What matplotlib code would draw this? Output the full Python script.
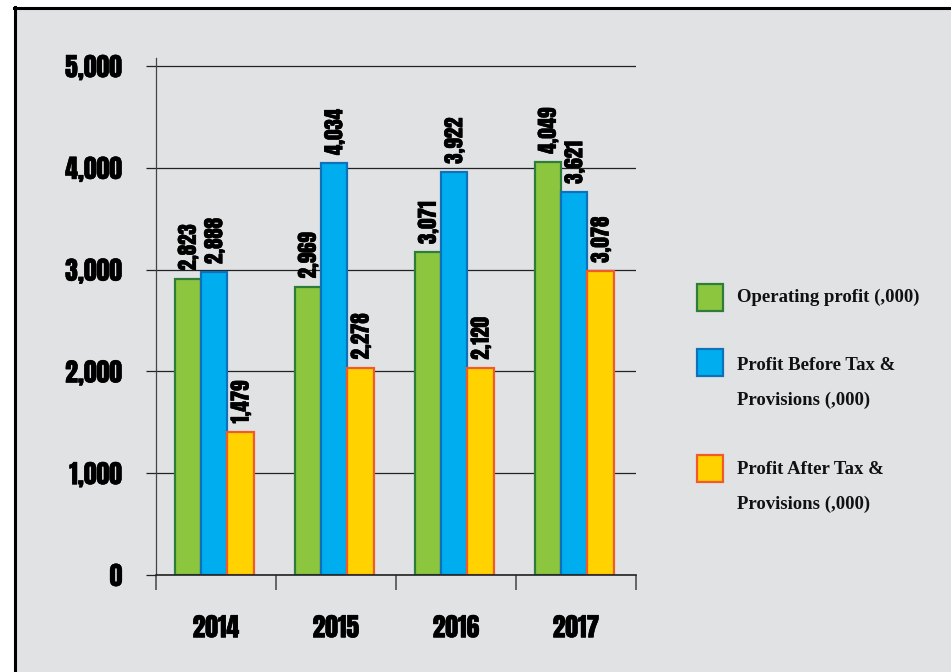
import matplotlib
matplotlib.use("Agg")
import matplotlib.pyplot as plt
import matplotlib.patheffects as pe
import numpy as np
from matplotlib.patches import Rectangle
from matplotlib.lines import Line2D

# ---- data ----
years = ["2014", "2015", "2016", "2017"]
operating_profit = [2911, 2832, 3170, 4057]          # bar heights as drawn
profit_before_tax = [2973, 4044, 3959, 3762]
profit_after_tax = [1408, 2036, 2033, 2986]
operating_labels = ["2,823", "2,969", "3,071", "4,049"]  # printed labels
before_tax_labels = ["2,888", "4,034", "3,922", "3,621"]
after_tax_labels = ["1,479", "2,278", "2,120", "3,078"]
series_names = [["Operating profit (,000)"],
                ["Profit Before Tax &", "Provisions (,000)"],
                ["Profit After Tax &", "Provisions (,000)"]]
y_ticks = [0, 1000, 2000, 3000, 4000, 5000]
y_tick_labels = ["0", "1,000", "2,000", "3,000", "4,000", "5,000"]

faces = ["#8cc63f", "#00aeef", "#ffd200"]
edges = ["#2f7d3a", "#0d72b9", "#f15a29"]
BG = "#e1e2e4"
COND = ["Anton", "Roboto Condensed", "DejaVu Sans"]
SERIF = ["Liberation Serif", "DejaVu Serif"]
HEAVY = [pe.withStroke(linewidth=0.4, foreground="black")]

W, H = 951, 672
fig = plt.figure(figsize=(W / 100, H / 100), dpi=100)
fig.patch.set_facecolor("white")

def fx(px):
    return px / W

def fy(py):
    return 1 - py / H

# grey panel with black border (left and top visible)
fig.patches.append(Rectangle((fx(15), 0), 1 - fx(15), fy(8), transform=fig.transFigure,
                             facecolor=BG, edgecolor="none", zorder=-5))
fig.lines.append(Line2D([fx(14.5), fx(14.5)], [0, fy(7)], transform=fig.transFigure,
                        color="black", lw=2.2, zorder=1))
fig.lines.append(Line2D([fx(13.5), 1], [fy(8), fy(8)], transform=fig.transFigure,
                        color="black", lw=2.2, zorder=1))

ax = fig.add_axes([fx(156), fy(575), fx(636) - fx(156), fy(58) - fy(575)])
ax.set_facecolor("none")
ax.set_zorder(2)

x = np.arange(len(years))
bw = 0.22
series = [operating_profit, profit_before_tax, profit_after_tax]
labels = [operating_labels, before_tax_labels, after_tax_labels]
for i, (vals, labs) in enumerate(zip(series, labels)):
    pos = x + (i - 1) * bw - 0.015
    bars = ax.bar(pos, vals, width=bw, color=faces[i], edgecolor=edges[i],
                  linewidth=1.6, zorder=3)
    for b, lab in zip(bars, labs):
        ax.annotate(lab, (b.get_x() + b.get_width() / 2, b.get_height()),
                    xytext=(0, 6), textcoords="offset points", rotation=90,
                    ha="center", va="bottom", fontsize=15, family=COND,
                    color="black", zorder=4, path_effects=HEAVY)

ax.set_xlim(-0.5, 3.5)
ax.set_ylim(0, 5080)

ax.set_yticks(y_ticks)
ax.set_yticklabels(y_tick_labels, family=COND, fontsize=18.5)
ax.tick_params(axis="y", length=7.2, width=0.9, color="#222222", pad=17)
ax.yaxis.grid(True, color="#222222", linewidth=0.9, zorder=1)
ax.set_axisbelow(True)

ax.set_xticks([-0.5, 0.5, 1.5, 2.5, 3.5])
ax.set_xticklabels([])
ax.set_xticks(x, minor=True)
ax.set_xticklabels(years, minor=True, family=COND, fontsize=18.5)
ax.tick_params(axis="x", which="major", length=11, width=1.1, color="#444444")
ax.tick_params(axis="x", which="minor", length=0, pad=29)
for t in ax.get_yticklabels() + ax.get_xticklabels(minor=True):
    t.set_path_effects(HEAVY)

for s in ["top", "right"]:
    ax.spines[s].set_visible(False)
ax.spines["left"].set_color("#444444")
ax.spines["left"].set_linewidth(0.9)
ax.spines["bottom"].set_color("#222222")
ax.spines["bottom"].set_linewidth(1.2)
ax.spines["bottom"].set_zorder(5)

# legend, drawn manually
legend_rows = [(283.5, [295]), (348.5, [363, 398]), (454.5, [467, 502])]
for (top, ys), lines, fc, ec in zip(legend_rows, series_names, faces, edges):
    fig.patches.append(Rectangle((fx(697), fy(top + 27)), fx(26), fy(top) - fy(top + 27),
                                 transform=fig.transFigure, facecolor=fc,
                                 edgecolor=ec, linewidth=1.6, zorder=3))
    for ty, line in zip(ys, lines):
        fig.text(fx(737), fy(ty), line, ha="left", va="center_baseline",
                 family=SERIF, fontweight="bold", fontsize=13.5, color="#111111")

fig.savefig("out.png", dpi=100, facecolor=fig.get_facecolor())
